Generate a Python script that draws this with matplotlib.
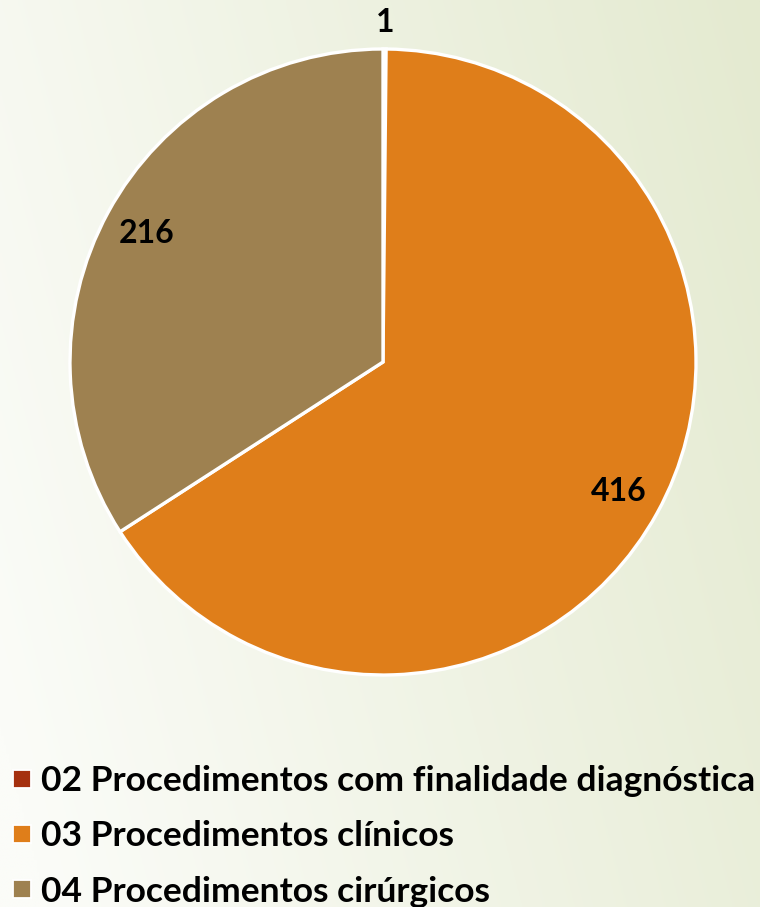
import matplotlib
matplotlib.use("Agg")
import matplotlib.pyplot as plt
import numpy as np
from matplotlib.lines import Line2D

categories = ["02 Procedimentos com finalidade diagnóstica",
              "03 Procedimentos clínicos",
              "04 Procedimentos cirúrgicos"]
values = [1, 416, 216]
colors = ["#a5300f", "#df7e1a", "#9e8150"]
label_dist = [1.086, 0.86, 0.86]

W, H = 760, 907
fig = plt.figure(figsize=(W / 100, H / 100), dpi=100)

# background gradient
bg = fig.add_axes([0, 0, 1, 1], zorder=-10)
xx, yy = np.meshgrid(np.linspace(0, 1, 300), np.linspace(0, 1, 300))
t = np.clip(0.8 * xx + 0.25 * (1 - yy) - 0.05, 0, 1)
c0 = np.array([251, 252, 248]) / 255
c1 = np.array([228, 234, 208]) / 255
img = c0[None, None, :] * (1 - t[..., None]) + c1[None, None, :] * t[..., None]
bg.imshow(img, aspect="auto", extent=[0, 1, 0, 1], origin="upper")
bg.axis("off")

font = "Lato"
cx, cy, r = 383, 362, 313
ax = fig.add_axes([(cx - r) / W, 1 - (cy + r) / H, 2 * r / W, 2 * r / H])
wedges, _ = ax.pie(values, colors=colors, startangle=90, counterclock=False,
                   radius=1, wedgeprops=dict(edgecolor="white", linewidth=2.4))
for w, v, d in zip(wedges, values, label_dist):
    ang = np.deg2rad((w.theta1 + w.theta2) / 2)
    ax.text(d * np.cos(ang), d * np.sin(ang), str(v), ha="center", va="center",
            fontsize=23, fontweight="bold", family=font, color="black")
ax.set_xlim(-1, 1)
ax.set_ylim(-1, 1)
ax.set_aspect("equal")
ax.axis("off")

handles = [Line2D([], [], linestyle="none", marker="s", markersize=12.5,
                  markerfacecolor=c, markeredgecolor="white", markeredgewidth=1.3)
           for c in colors]
leg = fig.legend(handles, categories, loc="upper left", bbox_to_anchor=(11 / W, 1 - 765 / H),
                 frameon=False, handlelength=0.6, handletextpad=0.25, labelspacing=0.66,
                 borderaxespad=0, borderpad=0.0,
                 prop=dict(family=font, weight="bold", size=25.5))
fig.savefig("out.png", dpi=100)
